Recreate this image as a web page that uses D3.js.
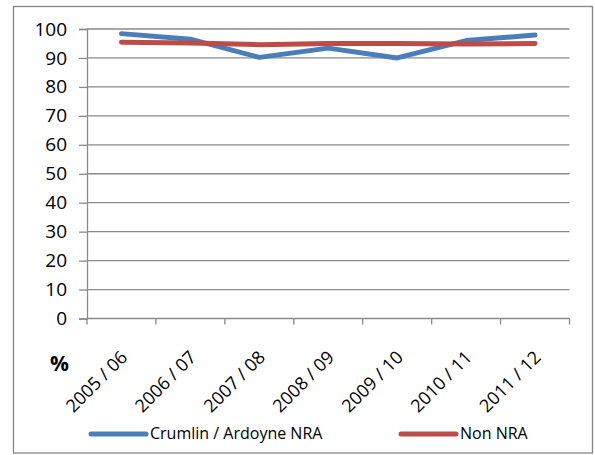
<!DOCTYPE html>
<html><head><meta charset="utf-8">
<script src="https://cdn.jsdelivr.net/npm/d3@7"></script>
<style>body{margin:0;background:#fff}svg{display:block}</style>
</head><body>
<script>
const categories = ["2005 / 06","2006 / 07","2007 / 08","2008 / 09","2009 / 10","2010 / 11","2011 / 12"];
const crumlin = [98.4, 96.5, 90.2, 93.4, 90.0, 96.0, 97.9];
const nonNra  = [95.4, 95.2, 94.6, 95.0, 95.0, 94.8, 95.0];
const yTicks  = [0,10,20,30,40,50,60,70,80,90,100];
const seriesNames = ["Crumlin / Ardoyne NRA","Non NRA"];
const colors = ["#4a7ebb","#be4b48"];

const W=595,H=455;
const svg=d3.select("body").append("svg").attr("width",W).attr("height",H);
const font="'Open Sans', sans-serif";

svg.append("rect").attr("x",13.5).attr("y",6.5).attr("width",579).attr("height",446.5)
  .attr("fill","#fff").attr("stroke","#868686").attr("stroke-width",1.3);

const x=d3.scaleBand().domain(categories).range([87,569.5]).padding(0);
const y=d3.scaleLinear().domain([0,100]).range([318.5,29]);

// gridlines
svg.append("g").selectAll("line").data(yTicks.filter(d=>d>0)).join("line")
  .attr("x1",87).attr("x2",569.5).attr("y1",d=>y(d)).attr("y2",d=>y(d))
  .attr("stroke","#8a8a8a").attr("stroke-width",1.3);

// y axis
const ya=svg.append("g").attr("transform","translate(87,0)")
  .call(d3.axisLeft(y).tickValues(yTicks).tickSize(8).tickPadding(12).tickFormat(d3.format("d")));
ya.select(".domain").attr("stroke","#8a8a8a").attr("stroke-width",1.3);
ya.selectAll(".tick line").attr("stroke","#8a8a8a").attr("stroke-width",1.3);
ya.selectAll("text").attr("font-family",font).attr("font-size",19).attr("fill","#000");

// x axis
const xa=svg.append("g").attr("transform","translate(0,318.5)");
xa.append("line").attr("x1",87).attr("x2",569.5).attr("stroke","#8a8a8a").attr("stroke-width",1.3);
const bounds=categories.map(c=>x(c)).concat([x.range()[1]]);
xa.selectAll("line.tk").data(bounds).join("line").attr("class","tk")
  .attr("x1",d=>d).attr("x2",d=>d).attr("y1",0).attr("y2",6)
  .attr("stroke","#8a8a8a").attr("stroke-width",1.3);
xa.selectAll("text").data(categories).join("text")
  .attr("transform",d=>`translate(${x(d)+x.bandwidth()/2+7},40) rotate(-45)`)
  .attr("text-anchor","end").attr("font-family",font).attr("font-size",18).attr("fill","#000")
  .text(d=>d);

svg.append("text").attr("x",50).attr("y",371).attr("font-family",font).attr("font-weight","bold")
  .attr("font-size",21).text("%");

// lines
const line=d3.line().x((d,i)=>x(categories[i])+x.bandwidth()/2).y(d=>y(d));
[crumlin,nonNra].forEach((s,i)=>{
  svg.append("path").datum(s).attr("d",line).attr("fill","none")
    .attr("stroke",colors[i]).attr("stroke-width",5).attr("stroke-linecap","round").attr("stroke-linejoin","round");
});

// legend
const legX=[91,401];
seriesNames.forEach((n,i)=>{
  const g=svg.append("g");
  g.append("line").attr("x1",legX[i]).attr("x2",legX[i]+55).attr("y1",434).attr("y2",434)
    .attr("stroke",colors[i]).attr("stroke-width",5).attr("stroke-linecap","round");
  g.append("text").attr("x",legX[i]+59).attr("y",439).attr("font-family",font).attr("font-size",16)
    .attr("fill","#000").text(n);
});
</script>
</body></html>
